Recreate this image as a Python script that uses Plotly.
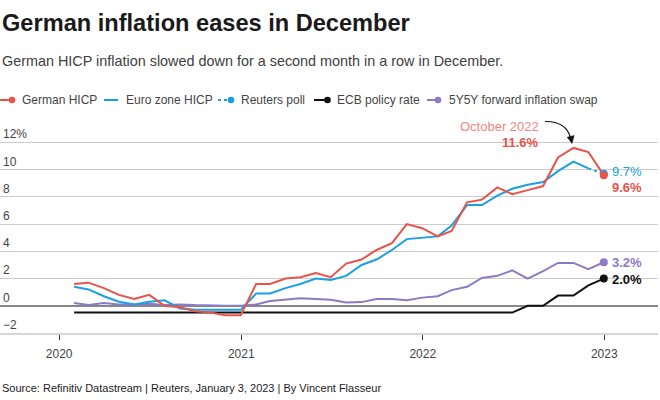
import pandas as pd
import plotly.graph_objects as go

# ---------------- data ----------------
months = pd.date_range("2020-01-01", "2022-12-31", freq="ME")  # month-end positions

german_hicp = [1.6, 1.7, 1.3, 0.8, 0.5, 0.8, 0.0, -0.1, -0.4, -0.5, -0.7, -0.7,
               1.6, 1.6, 2.0, 2.1, 2.4, 2.1, 3.1, 3.4, 4.1, 4.6, 6.0, 5.7,
               5.1, 5.5, 7.6, 7.8, 8.7, 8.2, 8.5, 8.8, 10.9, 11.6, 11.3, 9.6]

euro_hicp = [1.4, 1.2, 0.7, 0.3, 0.1, 0.3, 0.4, -0.2, -0.3, -0.3, -0.3, -0.3,
             0.9, 0.9, 1.3, 1.6, 2.0, 1.9, 2.2, 3.0, 3.4, 4.1, 4.9, 5.0,
             5.1, 5.9, 7.4, 7.4, 8.1, 8.6, 8.9, 9.1, 9.9, 10.6, 10.1]

reuters_poll_dates = ["2022-11-30", "2022-12-31"]
reuters_poll = [10.1, 9.7]

ecb_rate = [-0.5] * 30 + [0.0, 0.0, 0.75, 0.75, 1.5, 2.0]

swap_5y5y = [0.2, 0.05, 0.2, 0.1, 0.1, 0.15, 0.05, 0.1, 0.05, 0.0, 0.0, 0.0,
             0.1, 0.35, 0.45, 0.55, 0.5, 0.45, 0.25, 0.27, 0.5, 0.5, 0.4, 0.6,
             0.7, 1.15, 1.4, 2.05, 2.2, 2.6, 2.0, 2.55, 3.15, 3.15, 2.7, 3.2]

y_tickvals = [-2, 0, 2, 4, 6, 8, 10, 12]
y_ticktext = ["\u22122", "0", "2", "4", "6", "8", "10", "12%"]
x_tickvals = ["2020-01-01", "2021-01-01", "2022-01-01", "2023-01-01"]
x_ticktext = ["2020", "2021", "2022", "2023"]

legend_labels = ["German HICP", "Euro zone HICP", "Reuters poll", "ECB policy rate",
                 "5Y5Y forward inflation swap"]

# ---------------- style ----------------
RED = "#e8534a"
RED_LIGHT = "#f2877f"
BLUE = "#1a9fe5"
PURPLE = "#8c7bc4"
BLACK = "#111111"
FONT = "Liberation Sans, Arial, sans-serif"

W, H = 660, 400
ML, MR, MT, MB = 0, 2, 122, 67
PW, PH = W - ML - MR, H - MT - MB


def px(x):
    return (x - ML) / PW


def py(y):
    return (H - MB - y) / PH


fig = go.Figure()

fig.add_trace(go.Scatter(x=months, y=ecb_rate, mode="lines",
                         line=dict(color=BLACK, width=2), name=legend_labels[3]))
fig.add_trace(go.Scatter(x=months, y=swap_5y5y, mode="lines",
                         line=dict(color=PURPLE, width=2), name=legend_labels[4]))
fig.add_trace(go.Scatter(x=months[:len(euro_hicp)], y=euro_hicp, mode="lines",
                         line=dict(color=BLUE, width=2), name=legend_labels[1]))
fig.add_trace(go.Scatter(x=reuters_poll_dates, y=reuters_poll, mode="lines",
                         line=dict(color=BLUE, width=2, dash="dot"), name=legend_labels[2]))
fig.add_trace(go.Scatter(x=months, y=german_hicp, mode="lines",
                         line=dict(color=RED, width=2), name=legend_labels[0]))

# end-point markers
fig.add_trace(go.Scatter(x=[months[-1]] * 4,
                         y=[ecb_rate[-1], swap_5y5y[-1], reuters_poll[-1], german_hicp[-1]],
                         mode="markers",
                         marker=dict(size=8, color=[BLACK, PURPLE, BLUE, RED]),
                         showlegend=False))

annotations = []
# title, subtitle, source
annotations.append(dict(text="<b>German inflation eases in December</b>", x=px(0), y=py(23),
                        xref="paper", yref="paper", xanchor="left", yanchor="middle",
                        showarrow=False, font=dict(size=23.6, color="#1a1a1a", family=FONT)))
annotations.append(dict(text="German HICP inflation slowed down for a second month in a row in December.",
                        x=px(0), y=py(61), xref="paper", yref="paper", xanchor="left",
                        yanchor="middle", showarrow=False,
                        font=dict(size=14.4, color="#404040", family=FONT)))
annotations.append(dict(text="Source: Refinitiv Datastream | Reuters, January 3, 2023 | By Vincent Flasseur",
                        x=px(0), y=py(388), xref="paper", yref="paper", xanchor="left",
                        yanchor="middle", showarrow=False,
                        font=dict(size=11, color="#222222", family=FONT)))

# custom legend
shapes = []
leg_y = 100
leg_items = [
    # (line x0, line x1, dash, dot center or None, color, text x)
    (0, 13, "solid", 12, RED, 20),
    (104, 118, "solid", None, BLUE, 124),
    (218, 229, "dot", 231, BLUE, 239),
    (314, 327, "solid", 327.5, BLACK, 335),
    (427, 438, "solid", 438, PURPLE, 447),
]
for (x0, x1, dash, dot, col, tx), label in zip(leg_items, legend_labels):
    shapes.append(dict(type="line", xref="paper", yref="paper", x0=px(x0), x1=px(x1),
                       y0=py(leg_y), y1=py(leg_y), line=dict(color=col, width=2, dash=dash)))
    if dot is not None:
        r = 3.3
        shapes.append(dict(type="circle", xref="paper", yref="paper",
                           x0=px(dot - r), x1=px(dot + r), y0=py(leg_y + r), y1=py(leg_y - r),
                           fillcolor=col, line=dict(color=col, width=0)))
    annotations.append(dict(text=label, x=px(tx), y=py(leg_y), xref="paper", yref="paper",
                            xanchor="left", yanchor="middle", showarrow=False,
                            font=dict(size=12, color="#444444", family=FONT)))

# end labels
last = months[-1]
end_labels = [
    ("9.7%", reuters_poll[-1], BLUE, 2),
    ("<b>9.6%</b>", german_hicp[-1], RED, -12),
    ("<b>3.2%</b>", swap_5y5y[-1], PURPLE, 0),
    ("<b>2.0%</b>", ecb_rate[-1], BLACK, -1),
]
for txt, val, col, ys in end_labels:
    annotations.append(dict(text=txt, x=last, y=val, xref="x", yref="y", xanchor="left",
                            yanchor="middle", xshift=6, yshift=ys, showarrow=False,
                            font=dict(size=13, color=col, family=FONT)))

# October 2022 callout
annotations.append(dict(text="October 2022", x=px(541), y=py(126), xref="paper", yref="paper",
                        xanchor="right", yanchor="middle", showarrow=False,
                        font=dict(size=13, color=RED_LIGHT, family=FONT)))
annotations.append(dict(text="<b>11.6%</b>", x=px(541), y=py(142), xref="paper", yref="paper",
                        xanchor="right", yanchor="middle", showarrow=False,
                        font=dict(size=13, color=RED, family=FONT)))


# curved arrow
def pt(x, y):
    return f"{px(x):.5f},{py(y):.5f}"


shapes.append(dict(type="path", xref="paper", yref="paper",
                   path=f"M {pt(545, 121.5)} Q {pt(566, 121)} {pt(570.6, 138)}",
                   line=dict(color=BLACK, width=1.2)))
shapes.append(dict(type="path", xref="paper", yref="paper",
                   path=f"M {pt(572, 143.5)} L {pt(574.2, 135.6)} L {pt(567.2, 137.2)} Z",
                   fillcolor=BLACK, line=dict(color=BLACK, width=0.5)))

y_top = 12 + (142.5 - MT) / (PH - (142.5 - MT)) * 14  # keep 12 gridline at ~142.5 px

fig.update_layout(
    width=W, height=H,
    margin=dict(l=ML, r=MR, t=MT, b=MB),
    paper_bgcolor="white", plot_bgcolor="white",
    showlegend=False,
    hovermode=False,
    font=dict(family=FONT, color="#444444"),
    annotations=annotations,
    shapes=shapes,
    xaxis=dict(
        type="date",
        range=["2019-09-04", "2023-04-19"],
        tickvals=x_tickvals, ticktext=x_ticktext,
        ticks="outside", ticklen=5, tickwidth=1, tickcolor="#333333",
        showgrid=False, zeroline=False,
        showline=True, linecolor="#d6d6d6", linewidth=2,
        tickfont=dict(size=12, color="#444444", family=FONT),
        ticklabelstandoff=4,
    ),
    yaxis=dict(
        range=[-2, y_top],
        tickvals=y_tickvals, ticktext=y_ticktext,
        ticklabelposition="inside top",
        showgrid=True, gridcolor="#cccccc", gridwidth=1,
        zeroline=True, zerolinecolor="#888888", zerolinewidth=2,
        showline=False, ticks="",
        tickfont=dict(size=12, color="#444444", family=FONT),
    ),
)

fig.write_html("out.html", config={"displayModeBar": False},
               post_script="document.body.style.margin='0';")
